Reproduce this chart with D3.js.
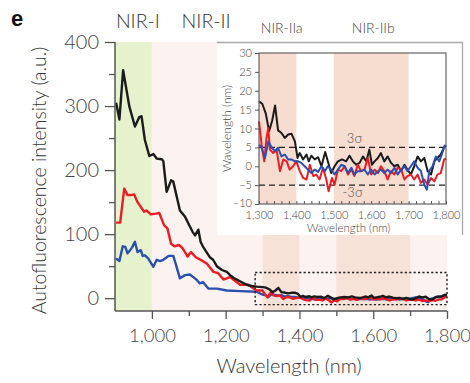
<!DOCTYPE html>
<html><head><meta charset="utf-8">
<script src="https://cdn.jsdelivr.net/npm/d3@7"></script>
<style>
html,body{margin:0;padding:0;background:#fff;}
svg{display:block;font-family:Lato,"Open Sans",sans-serif;font-weight:300;}
</style></head>
<body><svg id="chart" width="470" height="383"></svg>
<script>
// ---------- data ----------
const mainXTicks = [1000, 1200, 1400, 1600, 1800];
const mainXMinor = [1100, 1300, 1500, 1700];
const mainYTicks = [0, 100, 200, 300, 400];
const mainYMinor = [50, 150, 250, 350];
const insetXTicks = [1300, 1400, 1500, 1600, 1700, 1800];
const insetYTicks = [-10, -5, 0, 5, 10, 15, 20, 25, 30];
const regionLabels = ["NIR-I", "NIR-II", "NIR-IIa", "NIR-IIb"];
const sigmaLabels = ["3σ", "-3σ"];

// Main chart, 900–1290 nm [wavelength, intensity]
const blackMain = [[903,305],[912,279],[922,356],[939,299],[954,268],[966,283],[972,284],[981,247],[993,222],[1004,225],[1013,218],[1027,217],[1031,214],[1040,166],[1052,184],[1058,182],[1076,137],[1090,127],[1103,112],[1110,104],[1117,98],[1126,107],[1132,88],[1139,80],[1148,72],[1157,64],[1166,60],[1176,50],[1190,44],[1203,41],[1212,36],[1221,32],[1240,26],[1257,21],[1270,19],[1284,18]];
const redMain = [[903,118],[914,118],[925,171],[934,161],[943,161],[952,162],[961,150],[979,135],[985,137],[997,131],[1011,132],[1020,133],[1033,114],[1042,109],[1052,85],[1061,81],[1074,83],[1083,78],[1097,65],[1106,72],[1119,64],[1135,59],[1149,54],[1167,41],[1180,39],[1194,29],[1212,33],[1239,21],[1261,21],[1284,12]];
const blueMain = [[903,62],[912,58],[921,81],[928,80],[934,70],[941,75],[946,79],[954,88],[961,72],[970,75],[975,66],[981,67],[990,62],[1004,49],[1013,60],[1022,58],[1031,60],[1045,66],[1058,66],[1067,49],[1076,31],[1090,36],[1103,37],[1121,29],[1130,23],[1139,25],[1153,15],[1176,15],[1203,12],[1239,11],[1284,10]];

// 1300–1800 nm (inset, also the tail of the main chart)
const blackTail = [[1300,17.2],[1309,16.5],[1318,14],[1327,9.3],[1335,12],[1343,16.1],[1351,9.5],[1360,8.8],[1369,7.5],[1378,8.4],[1387,8.6],[1396,6.6],[1403,2.2],[1409,3.5],[1418,1.8],[1427,3.1],[1433,1.3],[1440,2.8],[1449,1.8],[1458,2.4],[1467,0],[1477,3.8],[1484,1.3],[1493,-1.8],[1502,0],[1511,1.3],[1522,1.8],[1533,1.3],[1542,2.8],[1551,1.3],[1560,0.4],[1569,0.9],[1578,2.6],[1587,1.3],[1595,4.4],[1602,0.4],[1609,1.3],[1618,2.2],[1626,3.5],[1635,1.3],[1644,2.6],[1653,0.9],[1662,0],[1671,0.4],[1680,-1.3],[1689,0.4],[1697,-0.9],[1706,-2.2],[1715,0],[1724,2.6],[1733,1.3],[1742,2.2],[1751,-1.3],[1760,-2.2],[1769,1.3],[1777,2.2],[1786,3.1],[1795,5],[1800,5.5]];
const redTail = [[1300,11.9],[1307,5.7],[1314,1.3],[1320,7.5],[1325,10.1],[1329,4.4],[1338,3.5],[1347,4.4],[1356,-1.3],[1365,1.8],[1374,1.3],[1382,-0.9],[1391,0],[1400,1.3],[1409,-1.3],[1418,-3.1],[1427,-3.5],[1436,0.4],[1445,-2.6],[1453,-2.2],[1462,-3.5],[1471,-0.4],[1480,-3.5],[1486,-6.6],[1495,-3.1],[1502,-4.9],[1511,-0.9],[1520,-1.3],[1529,0],[1538,-2.2],[1547,-0.9],[1555,-2.6],[1564,0.4],[1573,-1.3],[1582,-0.9],[1591,2.2],[1600,-2.2],[1609,-0.9],[1618,-1.8],[1626,0],[1635,-1.3],[1644,-3.5],[1653,-1.3],[1662,-2.2],[1671,-0.4],[1680,-0.9],[1689,-3.5],[1697,-2.6],[1706,-2.2],[1715,-3.5],[1724,-2.2],[1733,-4.4],[1742,-3.5],[1751,-4.9],[1760,-3.1],[1769,-4],[1777,-2.2],[1786,-1.8],[1795,1.8],[1800,2]];
const blueTail = [[1300,5.7],[1307,4.9],[1316,2.2],[1325,6.6],[1334,4.9],[1343,4],[1351,4.9],[1360,2.6],[1369,3.1],[1378,1.8],[1387,1.8],[1396,1.3],[1405,1.3],[1413,0.9],[1422,0],[1431,-0.9],[1440,-1.8],[1449,-0.9],[1458,-1.5],[1467,0],[1476,-1.3],[1484,0],[1493,-0.9],[1502,-2.2],[1511,-0.9],[1520,0.4],[1529,0],[1538,-1.8],[1547,-0.4],[1555,-2.2],[1564,-1.3],[1573,-1.3],[1582,-0.9],[1591,-2.2],[1600,-0.9],[1609,-2.2],[1618,-1.3],[1626,-0.9],[1635,-1.8],[1644,-0.9],[1653,-1.8],[1662,-0.4],[1671,-2.2],[1680,-0.9],[1689,0],[1697,-1.3],[1706,0],[1715,1.3],[1724,-0.4],[1733,-1.3],[1742,-4.9],[1749,-6.2],[1755,-1.3],[1764,0],[1773,2.6],[1782,1.3],[1790,3.5],[1797,5.7]];

const bandsMain = [[900,1000],[1000,1800],[1300,1400],[1500,1700]];
const bandsInset = [[1300,1400],[1500,1700]];
const sigmaLevels = [5, -5];
const zoomBox = [1280, 1800, -10, 40];

// ---------- drawing ----------
const svg = d3.select("#chart");
const x = d3.scaleLinear().domain([900, 1800]).range([115, 447]);
const y = d3.scaleLinear().domain([-20, 400]).range([311, 42]);

const bandFill = ["#e6f2cd", "#fcf2ef", "#f7e2d8", "#f7e2d8"];
svg.append("g").selectAll("rect").data(bandsMain).join("rect")
  .attr("x", d => x(d[0])).attr("width", d => x(d[1]) - x(d[0]))
  .attr("y", y(400)).attr("height", y(-20) - y(400))
  .attr("fill", (d, i) => bandFill[i]);

const line = d3.line().x(d => x(d[0])).y(d => y(d[1])).curve(d3.curveLinear);
const series = [
  {data: blackMain.concat(blackTail), color: "#1b1b1b"},
  {data: redMain.concat(redTail), color: "#ec1c24"},
  {data: blueMain.concat(blueTail), color: "#2a4fae"}
];
svg.append("g").selectAll("path").data(series.slice().reverse()).join("path")
  .attr("d", d => line(d.data)).attr("fill", "none")
  .attr("stroke", d => d.color).attr("stroke-width", 2.4)
  .attr("stroke-linejoin", "round");

// dotted zoom box
svg.append("rect")
  .attr("x", x(zoomBox[0])).attr("y", y(zoomBox[3]))
  .attr("width", x(zoomBox[1]) - x(zoomBox[0])).attr("height", y(zoomBox[2]) - y(zoomBox[3]))
  .attr("fill", "none").attr("stroke", "#222").attr("stroke-width", 1.4)
  .attr("stroke-dasharray", "2.2,2.2");

// main axes
const axisCol = "#555";
svg.append("line").attr("x1", 115).attr("x2", 115).attr("y1", y(400)).attr("y2", y(-20))
  .attr("stroke", axisCol).attr("stroke-width", 1.5);
svg.append("line").attr("x1", 115).attr("x2", x(1800)).attr("y1", y(-20)).attr("y2", y(-20))
  .attr("stroke", axisCol).attr("stroke-width", 1.5);
const gx = svg.append("g").attr("transform", `translate(0,${y(-20)})`)
  .call(d3.axisBottom(x).tickValues(mainXTicks).tickSize(8).tickPadding(10).tickFormat(d3.format(",")));
gx.select(".domain").remove();
gx.selectAll("line").attr("stroke", axisCol).attr("stroke-width", 1.3);
gx.selectAll("text").attr("font-size", 18.5).attr("fill", "#444").attr("font-family", "Lato,'Open Sans',sans-serif");
const gxm = svg.append("g").attr("transform", `translate(0,${y(-20)})`)
  .call(d3.axisBottom(x).tickValues(mainXMinor).tickSize(5).tickFormat(""));
gxm.select(".domain").remove();
gxm.selectAll("line").attr("stroke", axisCol).attr("stroke-width", 1.3);

const gy = svg.append("g").attr("transform", "translate(115,0)")
  .call(d3.axisLeft(y).tickValues(mainYTicks).tickSize(10).tickPadding(6));
gy.select(".domain").remove();
gy.selectAll("line").attr("stroke", axisCol).attr("stroke-width", 1.3);
gy.selectAll("text").attr("font-size", 20).attr("fill", "#444").attr("font-family", "Lato,'Open Sans',sans-serif");
const gym = svg.append("g").attr("transform", "translate(115,0)")
  .call(d3.axisLeft(y).tickValues(mainYMinor).tickSize(6).tickFormat(""));
gym.select(".domain").remove();
gym.selectAll("line").attr("stroke", axisCol).attr("stroke-width", 1.3);

svg.append("text").attr("x", (115 + 447) / 2 + 8).attr("y", 373).attr("text-anchor", "middle")
  .attr("font-size", 20).attr("fill", "#333").text("Wavelength (nm)");
svg.append("text").attr("transform", `translate(46,${(311 + 42) / 2 + 4}) rotate(-90)`)
  .attr("text-anchor", "middle").attr("font-size", 19.5).attr("fill", "#333")
  .text("Autofluorescence intensity (a.u.)");
svg.append("text").attr("x", 11).attr("y", 26).attr("font-size", 22).attr("font-weight", 700)
  .attr("font-family", "'Liberation Sans',Arial,sans-serif").attr("fill", "#111").text("e");

// region labels
svg.append("text").attr("x", x(962)).attr("y", 28).attr("text-anchor", "middle")
  .attr("font-size", 19.5).attr("fill", "#333").text(regionLabels[0]);
svg.append("text").attr("x", x(1147)).attr("y", 28).attr("text-anchor", "middle")
  .attr("font-size", 19.5).attr("fill", "#333").text(regionLabels[1]);
svg.append("text").attr("x", x(1352)).attr("y", 33).attr("text-anchor", "middle")
  .attr("font-size", 14).attr("fill", "#444").text(regionLabels[2]);
svg.append("text").attr("x", x(1600)).attr("y", 33).attr("text-anchor", "middle")
  .attr("font-size", 14).attr("fill", "#444").text(regionLabels[3]);

// ---------- inset ----------
const ix = d3.scaleLinear().domain([1300, 1800]).range([259, 446]);
const iy = d3.scaleLinear().domain([-10, 30]).range([204, 53]);
const inset = svg.append("g");
inset.append("rect").attr("x", 217).attr("y", 42).attr("width", 246).attr("height", 193).attr("fill", "#fff");
inset.append("path").attr("d", "M217,42.5H462.5V235").attr("fill", "none").attr("stroke", "#a9a9a9").attr("stroke-width", 1.3);
inset.append("g").selectAll("rect").data(bandsInset).join("rect")
  .attr("x", d => ix(d[0])).attr("width", d => ix(d[1]) - ix(d[0]))
  .attr("y", iy(30)).attr("height", iy(-10) - iy(30)).attr("fill", "#f7ddd0");

// sigma lines
inset.append("g").selectAll("line").data(sigmaLevels).join("line")
  .attr("x1", ix(1300)).attr("x2", ix(1800)).attr("y1", d => iy(d)).attr("y2", d => iy(d))
  .attr("stroke", "#222").attr("stroke-width", 1.4).attr("stroke-dasharray", "6,4");
inset.append("text").attr("x", ix(1555)).attr("y", 143).attr("text-anchor", "middle")
  .attr("font-size", 13).attr("fill", "#555").text(sigmaLabels[0]);
inset.append("text").attr("x", ix(1550)).attr("y", 197).attr("text-anchor", "middle")
  .attr("font-size", 13).attr("fill", "#555").text(sigmaLabels[1]);

const iline = d3.line().x(d => ix(d[0])).y(d => iy(d[1]));
const insetSeries = [
  {data: blueTail, color: "#2a4fae"},
  {data: redTail, color: "#ec1c24"},
  {data: blackTail, color: "#1b1b1b"}
];
inset.append("g").selectAll("path").data([insetSeries[2], insetSeries[1], insetSeries[0]]).join("path")
  .attr("d", d => iline(d.data)).attr("fill", "none").attr("stroke", d => d.color)
  .attr("stroke-width", 2).attr("stroke-linejoin", "round");

// inset frame
inset.append("rect").attr("x", ix(1300)).attr("y", iy(30)).attr("width", ix(1800) - ix(1300))
  .attr("height", iy(-10) - iy(30)).attr("fill", "none").attr("stroke", "#555").attr("stroke-width", 1.1);
const igx = inset.append("g").attr("transform", `translate(0,${iy(-10)})`)
  .call(d3.axisBottom(ix).tickValues(insetXTicks).tickSize(0).tickPadding(7).tickFormat(d3.format(",")));
igx.select(".domain").remove();
igx.selectAll("text").attr("font-size", 11).attr("fill", "#444").attr("font-family", "Lato,'Open Sans',sans-serif");
const igxm = inset.append("g").attr("transform", `translate(0,${iy(-10)})`)
  .call(d3.axisTop(ix).ticks(20).tickSize(3).tickFormat(""));
igxm.select(".domain").remove();
igxm.selectAll("line").attr("stroke", "#555");
const igy = inset.append("g").attr("transform", `translate(${ix(1300)},0)`)
  .call(d3.axisLeft(iy).tickValues(insetYTicks).tickSize(4).tickPadding(3));
igy.select(".domain").remove();
igy.selectAll("line").attr("stroke", "#555");
igy.selectAll("text").attr("font-size", 11).attr("fill", "#444").attr("font-family", "Lato,'Open Sans',sans-serif")
  .attr("dy", (d) => d === -10 ? "0.2em" : "0.32em");
inset.append("text").attr("x", (ix(1300) + ix(1800)) / 2 - 4).attr("y", 232).attr("text-anchor", "middle")
  .attr("font-size", 11.5).attr("fill", "#444").text("Wavelength (nm)");
inset.append("text").attr("transform", `translate(231,${(iy(-10) + iy(30)) / 2}) rotate(-90)`)
  .attr("text-anchor", "middle").attr("font-size", 12).attr("fill", "#444").text("Wavelength (nm)");
</script></body></html>
